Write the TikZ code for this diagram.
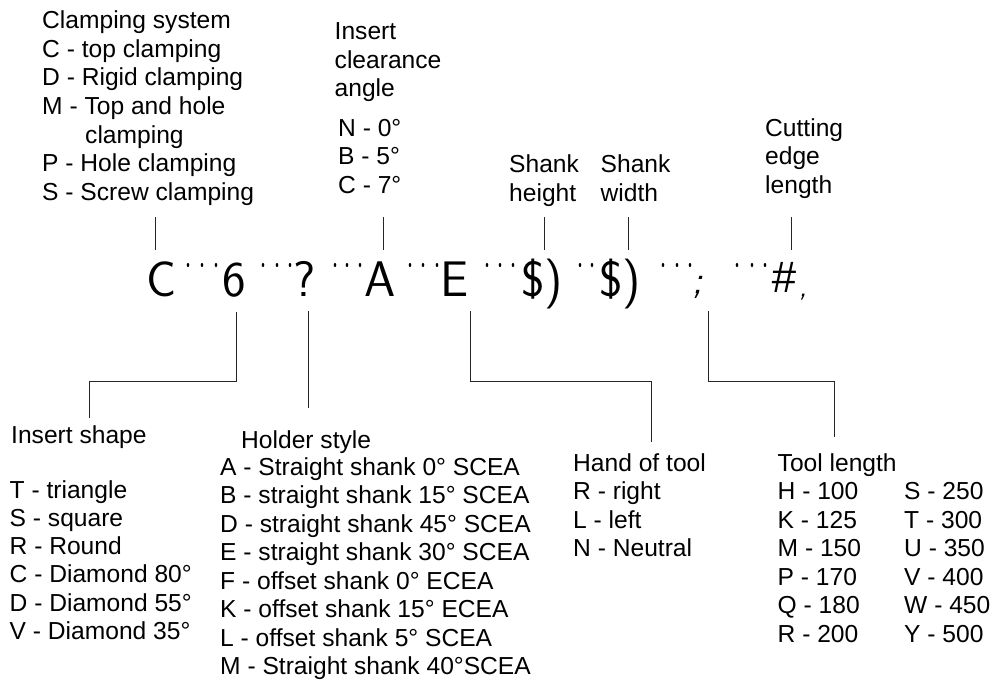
\documentclass[tikz,border=0pt]{standalone}
\usepackage{fontspec}
\setmainfont{Liberation Sans}
\begin{document}
\begin{tikzpicture}[x=1pt,y=-1pt,
  lbl/.style={anchor=base west, inner sep=0pt, font=\fontsize{24.6}{28.5}\selectfont},
  code/.style={anchor=base, inner sep=0pt, font=\fontsize{50}{60}\selectfont\sffamily},
  lead/.style={line width=0.9pt, draw=black!85},
  sepdot/.style={fill=black, draw=none}]
\useasboundingbox (0,0) rectangle (995,682);

% ---- designation code ----
\node[code] (cC) at (162,296) {C};
\node[code] (c6) at (234,296) {6};
\node[code] (cQ) at (305,296) {?};
\node[code] (cA) at (380,296) {A};
\node[code] (cE) at (455,296) {E};
\node[code] (cH) at (542,296) {\$)};
\node[code] (cW) at (620,296) {\$)};
\node[code, font=\fontsize{40}{48}\selectfont\sffamily\slshape] (cL) at (698,293) {;};
\node[code, font=\fontsize{44}{52}\selectfont\rmfamily\itshape] (cN) at (784,292) {\#};
\node[code, font=\fontsize{30}{36}\selectfont\sffamily\slshape] (cK) at (803,296) {,};

% separator marks
\foreach \x in {188,202,216, 263,277,290, 335,347,360, 410,423,437,
                487,500,513, 580,592, 663,677,690, 737,752,765}
  \fill[sepdot] (\x,265) ellipse (1.3 and 2);

% ---- upper labels ----
\node[lbl] (cs0) at (42,29) {Clamping system};
\node[lbl] (cs1) at (42,57.5) {C - top clamping};
\node[lbl] (cs2) at (42,86) {D - Rigid clamping};
\node[lbl] (cs3) at (42,114.5) {M - Top and hole};
\node[lbl] (cs4) at (85,143) {clamping};
\node[lbl] (cs5) at (42,171.5) {P - Hole clamping};
\node[lbl] (cs6) at (42,200) {S - Screw clamping};

\node[lbl] (ic0) at (334.5,40) {Insert};
\node[lbl] (ic1) at (334.5,68.5) {clearance};
\node[lbl] (ic2) at (334.5,97) {angle};
\node[lbl] (ic3) at (338,136) {N - 0°};
\node[lbl] (ic4) at (338,164.5) {B - 5°};
\node[lbl] (ic5) at (338,193) {C - 7°};

\node[lbl] (sh0) at (509,172.5) {Shank};
\node[lbl] (sh1) at (509,201) {height};
\node[lbl] (sw0) at (600.5,172.5) {Shank};
\node[lbl] (sw1) at (600.5,201) {width};

\node[lbl] (ce0) at (765,136) {Cutting};
\node[lbl] (ce1) at (765,164.5) {edge};
\node[lbl] (ce2) at (765,193) {length};

% upper leaders
\foreach \n/\x in {tC/155, tA/383, tH/544, tW/628, tN/791}{
  \coordinate (\n-a) at (\x,217);
  \coordinate (\n-b) at (\x,250);
  \draw[lead] (\n-a) -- (\n-b);
}

% ---- lower labels ----
\node[lbl] (is0) at (11,443) {Insert shape};
\foreach \t [count=\i] in {T - triangle, S - square, R - Round,
    C - Diamond 80°, D - Diamond 55°, V - Diamond 35°}
  \node[lbl] (is\i) at (9.5,{498+28.3*(\i-1)}) {\t};

\node[lbl] (hs0) at (241,448) {Holder style};
\foreach \t [count=\i] in {A - Straight shank 0° SCEA, B - straight shank 15° SCEA,
    D - straight shank 45° SCEA, E - straight shank 30° SCEA,
    F - offset shank 0° ECEA, K - offset shank 15° ECEA,
    L - offset shank 5° SCEA, M - Straight shank 40°SCEA}
  \node[lbl] (hs\i) at (220,{475+28.5*(\i-1)}) {\t};

\node[lbl] (ht0) at (573,471) {Hand of tool};
\foreach \t [count=\i] in {R - right, L - left, N - Neutral}
  \node[lbl] (ht\i) at (573,{471+28.5*\i}) {\t};

\node[lbl] (tl0) at (777.5,471) {Tool length};
\foreach \t [count=\i] in {H - 100, K - 125, M - 150, P - 170, Q - 180, R - 200}
  \node[lbl] (tla\i) at (777.5,{471+28.5*\i}) {\t};
\foreach \t [count=\i] in {S - 250, T - 300, U - 350, V - 400, W - 450, Y - 500}
  \node[lbl] (tlb\i) at (904,{471+28.5*\i}) {\t};

% lower leaders
\coordinate (b6-a) at (236,312);  \coordinate (b6-b) at (89,418);
\coordinate (bQ-a) at (308,311);  \coordinate (bQ-b) at (308,408);
\coordinate (bE-a) at (470,311);  \coordinate (bE-b) at (651,442);
\coordinate (bL-a) at (708,311);  \coordinate (bL-b) at (834,437);
\draw[lead] (b6-a) -- ++(0,69) -| (b6-b);
\draw[lead] (bQ-a) -- (bQ-b);
\draw[lead] (bE-a) -- ++(0,70) -| (bE-b);
\draw[lead] (bL-a) -- ++(0,70) -| (bL-b);
\end{tikzpicture}
\end{document}
